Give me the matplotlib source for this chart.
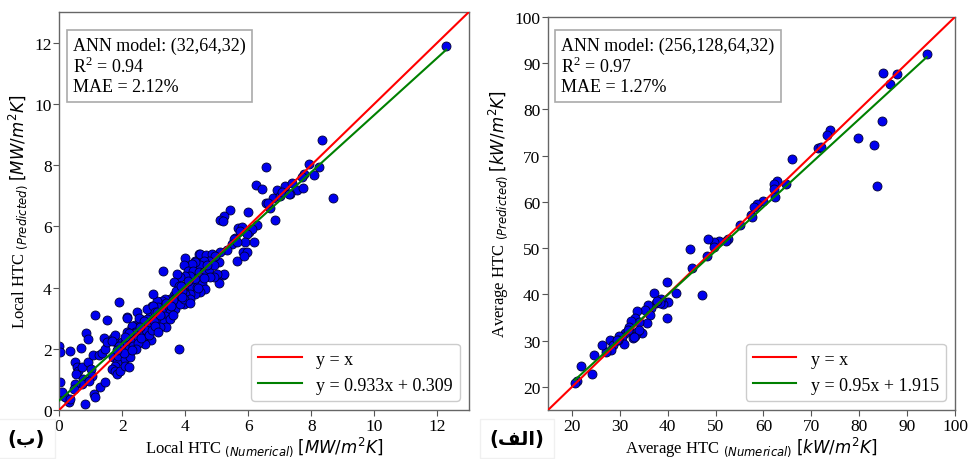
import matplotlib
matplotlib.use("Agg")
import matplotlib.pyplot as plt

plt.rcParams['font.family'] = ['Liberation Serif', 'DejaVu Sans']
plt.rcParams['mathtext.fontset'] = 'dejavusans'

# ---------------- data: left panel (local HTC, MW/m2K) ----------------
local_numerical = [
    12.28, 8.34, 8.68, 6.56, 7.92, 8.25, 8.07, 7.76, 7.70, 6.25, 6.44, 6.91, 7.17, 7.37, 7.54, 7.74,
    7.31, 6.77, 7.02, 6.56, 6.86, 5.41, 5.24, 5.09, 5.20, 5.98, 5.66, 5.80, 6.28, 6.68, 7.07, 7.28,
    6.61, 6.01, 6.12, 5.59, 5.53, 5.75,
    5.96, 5.90, 5.83, 5.48, 5.32, 5.11, 5.06, 5.64, 6.17, 5.64, 5.96, 5.85, 5.06, 5.20, 4.58, 4.81,
    4.90, 4.45, 4.00, 4.32, 4.26, 3.29, 3.81,
    4.48, 4.67, 4.85, 4.95, 4.74, 4.58, 4.48, 4.32, 4.21, 3.95, 4.10, 4.26, 4.42, 4.58, 4.74, 4.90,
    5.22, 5.00, 4.90, 4.79, 4.48, 4.32, 4.16, 4.00, 3.84, 3.74, 3.63, 3.79, 3.95, 4.10, 4.21, 4.37,
    4.53, 4.63, 4.48, 4.32, 4.16, 4.00, 3.90, 3.74, 3.63, 3.79, 3.52, 3.37, 3.26, 3.10, 2.99, 2.94,
    3.15, 3.31, 3.47, 3.63, 3.68, 3.52, 3.37, 3.21, 2.99, 2.89, 2.78, 2.57, 2.68, 2.52, 2.41, 2.31,
    2.15, 2.47, 2.78, 3.10, 3.31, 3.52, 3.95, 3.84, 4.16, 3.95,
    4.70, 4.10, 3.90, 3.60, 3.40, 3.55, 3.70, 3.85, 3.40, 3.60, 4.15, 4.40, 4.60, 3.20, 2.90, 2.70,
    0.01, 0.03, 0.03, 0.08, 0.14, 0.35, 0.32, 0.70, 0.86, 0.93, 1.14, 1.41, 1.53, 1.90, 1.72, 1.81,
    1.78, 2.15, 2.36, 2.54, 2.99, 3.05,
    0.19, 0.35, 0.51, 0.56, 0.61, 0.53, 0.72, 0.77, 0.72, 0.93, 1.02, 1.04, 0.95, 0.51, 0.46, 0.83,
    1.12, 1.14, 1.30, 1.44, 1.06, 1.25, 1.35, 1.46, 1.51, 1.67, 1.72, 1.83, 1.78, 1.67, 2.31, 2.15,
    2.41, 2.57, 2.73, 2.68, 1.99, 2.20, 2.04, 1.88, 2.10, 2.25, 1.78, 1.83, 1.94, 2.10, 2.20, 0.10,
    2.30, 2.40, 2.50, 2.60, 2.70, 2.80, 2.90, 3.00, 3.10, 3.20, 2.00, 2.10, 2.20, 1.90, 2.05, 2.35,
    2.50, 2.60, 2.75, 2.85, 2.95, 3.05, 3.15, 2.45, 2.30, 2.70, 2.55, 2.20, 2.10, 1.85,
]
local_predicted = [
    11.88, 8.81, 6.93, 7.95, 8.03, 7.94, 7.66, 7.71, 7.60, 7.35, 7.21, 7.20, 7.30, 7.41, 7.17, 7.25,
    7.06, 6.93, 6.98, 6.75, 6.19, 6.54, 6.33, 6.19, 6.17, 6.45, 5.94, 5.97, 6.05, 6.59, 7.11, 7.04,
    6.76, 5.81, 5.92, 5.61, 5.59, 5.83,
    5.75, 5.48, 5.15, 5.42, 5.21, 5.15, 4.83, 4.85, 5.48, 5.50, 5.15, 5.04, 4.14, 4.41, 4.72, 4.72,
    5.04, 5.08, 4.96, 4.88, 4.77, 4.53, 1.99,
    5.10, 5.07, 5.10, 5.04, 4.88, 4.88, 4.72, 4.83, 4.77, 4.72, 4.55, 4.55, 4.50, 4.50, 4.61, 4.72,
    4.44, 4.44, 4.34, 4.34, 4.34, 4.28, 4.39, 4.39, 4.34, 4.44, 4.17, 4.06, 4.06, 4.12, 4.01, 4.01,
    4.12, 3.95, 3.85, 3.79, 3.79, 3.79, 3.90, 3.85, 3.74, 3.68, 3.63, 3.63, 3.57, 3.57, 3.79, 3.41,
    3.36, 3.30, 3.36, 3.46, 3.30, 3.19, 3.08, 3.08, 3.19, 3.08, 3.30, 2.97, 2.87, 2.81, 2.76, 2.70,
    3.03, 3.19, 2.97, 2.87, 2.87, 2.97, 3.46, 3.46, 3.63, 3.63,
    4.75, 4.20, 3.70, 3.60, 3.50, 3.40, 3.90, 4.05, 2.70, 3.10, 3.50, 4.00, 4.30, 2.70, 2.30, 2.20,
    2.08, 1.91, 0.93, 0.52, 0.45, 1.92, 0.25, 2.02, 2.52, 2.32, 3.11, 2.34, 2.94, 3.52, 2.34, 2.21,
    2.45, 3.00, 2.70, 3.00, 3.41, 3.19,
    0.41, 0.36, 1.56, 1.40, 1.28, 1.18, 1.40, 1.01, 0.85, 1.56, 1.34, 1.10, 0.96, 0.85, 0.69, 0.20,
    0.52, 0.41, 0.74, 0.90, 1.80, 1.80, 1.86, 1.99, 2.21, 2.26, 1.72, 1.56, 1.45, 1.34, 2.75, 2.54,
    2.54, 2.21, 2.16, 2.43, 2.21, 1.99, 1.88, 1.77, 1.67, 1.72, 1.28, 1.18, 1.28, 1.45, 1.40, 0.58,
    2.30, 2.50, 2.40, 2.60, 2.50, 2.80, 2.70, 2.90, 3.20, 3.10, 2.00, 2.20, 2.00, 2.10, 1.85, 2.10,
    2.20, 2.35, 2.60, 2.45, 2.60, 2.75, 2.55, 2.00, 1.95, 2.90, 2.70, 2.50, 2.40, 1.95,
]

# ---------------- data: right panel (average HTC, kW/m2K) ----------------
avg_numerical = [
    94.1, 84.9, 87.9, 86.5, 84.8, 79.8, 83.0, 83.7, 73.8, 73.3, 71.4, 72.1, 66.0, 62.9, 62.1, 62.2,
    62.4, 64.7, 59.9, 58.6, 58.0, 57.3, 57.7, 55.1, 52.6, 52.2, 50.7, 49.7, 48.5, 49.6, 48.2, 44.6,
    45.0, 47.1, 41.8, 39.8, 40.1, 39.1, 38.5, 39.8, 37.2, 37.5, 36.6, 35.8, 35.2, 36.2, 35.7, 33.5,
    33.2, 34.1, 34.6, 33.6, 33.2, 32.7, 32.3, 32.0, 31.1, 30.4, 29.8, 30.8, 29.7, 28.3, 27.9, 28.6,
    28.1, 27.2, 26.3, 24.6, 24.1, 21.9, 21.0, 20.6, 33.9, 33.0, 31.7, 29.3, 38.4, 37.7,
]
avg_predicted = [
    91.9, 87.9, 87.7, 85.6, 77.6, 73.8, 72.4, 63.4, 75.5, 74.4, 71.7, 71.8, 69.2, 64.6, 63.9, 62.8,
    61.1, 63.9, 60.2, 59.5, 58.8, 57.1, 56.8, 55.0, 52.0, 51.5, 51.5, 51.4, 51.9, 50.2, 48.2, 49.8,
    45.7, 39.9, 40.2, 42.7, 38.4, 37.9, 39.0, 34.9, 40.4, 38.1, 37.1, 37.7, 36.7, 35.6, 33.8, 36.5,
    35.0, 34.0, 31.7, 31.8, 30.9, 30.5, 34.3, 33.0, 31.7, 30.8, 31.1, 29.3, 30.1, 29.9, 30.1, 29.0,
    27.9, 27.6, 29.1, 27.0, 22.8, 24.5, 21.3, 20.9, 32.2, 30.8, 32.3, 30.1, 38.2, 38.6,
]

left_ticks = [0, 2, 4, 6, 8, 10, 12]
right_ticks = [20, 30, 40, 50, 60, 70, 80, 90, 100]
left_fit = (0.933, 0.309)
right_fit = (0.95, 1.915)


def shape_arabic_visual(s):
    # visual-order presentation forms for the panel tags
    table = {"الف": "\uFED2\uFEDF\uFE8D", "ب": "\u0628"}
    return table.get(s, s)


def panel(ax, xs, ys, lims, ticks, fit, box_text, box_xy, xlabel, ylabel):
    ax.scatter(xs, ys, s=42, c='#0000ee', edgecolors='#000033', linewidths=0.6, zorder=2)
    ax.plot(lims, lims, color='red', lw=1.5, zorder=3, label='y = x')
    a, b = fit
    x0, x1 = min(xs), max(xs)
    ax.plot([x0, x1], [a * x0 + b, a * x1 + b], color='green', lw=1.5, zorder=3,
            label=f'y = {a:g}x + {b:g}')
    ax.set_xlim(lims)
    ax.set_ylim(lims)
    ax.set_xticks(ticks)
    ax.set_yticks(ticks)
    ax.tick_params(labelsize=12.5, color='#555555', length=4, pad=1.5)
    for sp in ax.spines.values():
        sp.set_color('#666666')
        sp.set_linewidth(1.0)
    ax.text(box_xy[0], box_xy[1], box_text, transform=ax.transAxes, va='top', ha='left',
            fontsize=13, linespacing=1.15,
            bbox=dict(boxstyle='square,pad=0.35', fc='white', ec='#aaaaaa', lw=1.2))
    leg = ax.legend(loc='lower right', fontsize=13, handlelength=2.4, borderaxespad=0.5,
                    frameon=True, fancybox=True, edgecolor='#cccccc', framealpha=1)
    leg.get_frame().set_linewidth(1.0)
    ax.set_xlabel(xlabel, fontsize=12, labelpad=0.5)
    ax.set_ylabel(ylabel, fontsize=12, labelpad=3)


fig = plt.figure(figsize=(9.7, 4.6), dpi=100)
axL = fig.add_axes([0.061, 0.1065, 0.4225, 0.8655])
axR = fig.add_axes([0.565, 0.1065, 0.4195, 0.8545])

panel(axL, local_numerical, local_predicted, [0, 13], left_ticks, left_fit,
      'ANN model: (32,64,32)\nR$^{\\mathregular{2}}$ = 0.94\nMAE = 2.12%', (0.034, 0.938),
      r'Local HTC $_{(Numerical)}$ $[MW/m^2K]$',
      r'Local HTC $_{(Predicted)}$ $[MW/m^2K]$')
panel(axR, avg_numerical, avg_predicted, [15, 100], right_ticks, right_fit,
      'ANN model: (256,128,64,32)\nR$^{\\mathregular{2}}$ = 0.97\nMAE = 1.27%', (0.032, 0.95),
      r'Average HTC $_{(Numerical)}$ $[kW/m^2K]$',
      r'Average HTC $_{(Predicted)}$ $[kW/m^2K]$')

tag_style = dict(fontsize=14, fontweight='bold', family=['DejaVu Sans'], va='center', ha='center',
                 bbox=dict(boxstyle='square,pad=0.5', fc='white', ec='#f0f0f0', lw=1))
fig.text(0.027, 0.045, '(' + shape_arabic_visual('ب') + ')', **tag_style)
fig.text(0.533, 0.045, '(' + shape_arabic_visual('الف') + ')', **tag_style)

fig.savefig('out.png', dpi=100, facecolor='white')
